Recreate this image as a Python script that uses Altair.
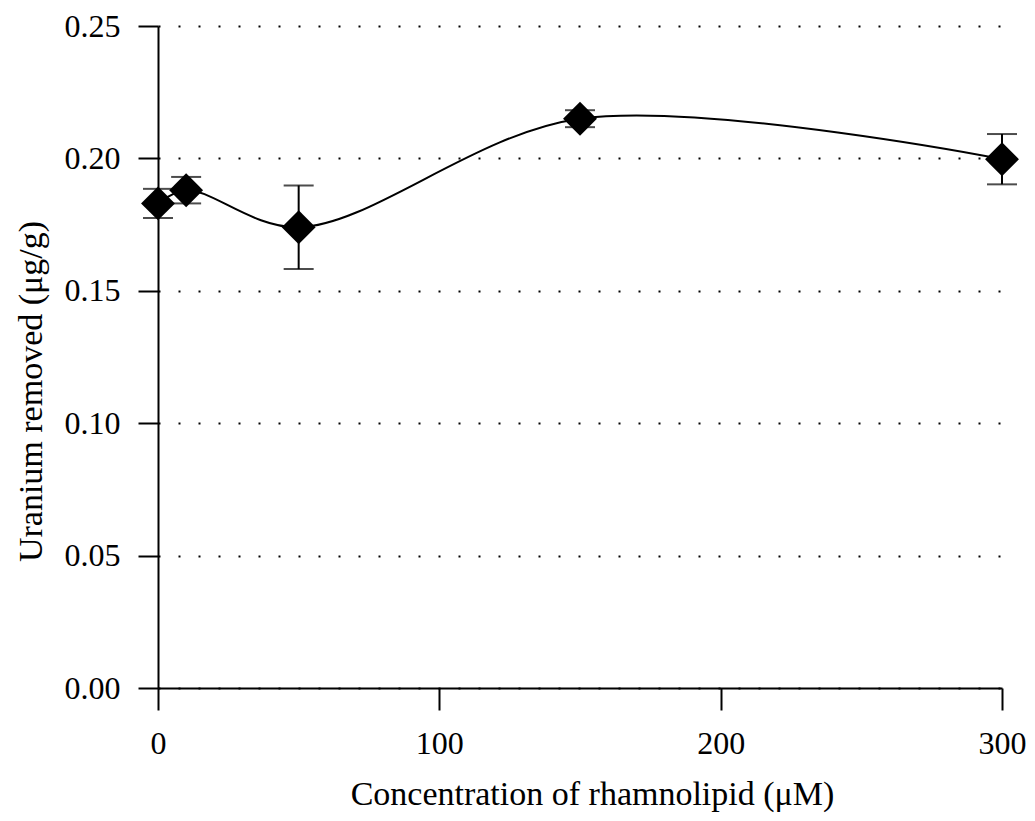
import altair as alt
import pandas as pd

conc = [0, 10, 50, 150, 300]
uranium = [0.183, 0.188, 0.174, 0.215, 0.1997]
err = [0.0055, 0.005, 0.0158, 0.0032, 0.0095]
x_ticks = [0, 100, 200, 300]
y_ticks = [0.0, 0.05, 0.10, 0.15, 0.20, 0.25]

df = pd.DataFrame({
    "conc": conc,
    "u": uranium,
    "lo": [u - e for u, e in zip(uranium, err)],
    "hi": [u + e for u, e in zip(uranium, err)],
})

FONT = "Liberation Serif"

xenc = alt.X(
    "conc:Q",
    scale=alt.Scale(domain=[0, 300], nice=False, zero=False),
    axis=alt.Axis(
        values=x_ticks, format="d", grid=False,
        title="Concentration of rhamnolipid (μM)",
        tickSize=22, tickWidth=2, tickColor="black",
        domainColor="black", domainWidth=2,
        labelFont=FONT, labelFontSize=32, labelColor="black", labelPadding=18,
        labelFlush=False,
        titleFont=FONT, titleFontSize=34, titleFontWeight="normal", titleColor="black",
        titleX=434, titleY=106, titleBaseline="middle",
    ),
)
yenc = alt.Y(
    "u:Q",
    scale=alt.Scale(domain=[0, 0.25], nice=False),
    axis=alt.Axis(
        values=y_ticks, format=".2f", grid=True,
        gridDash=[2, 18], gridColor="black", gridWidth=2,
        title="Uranium removed (μg/g)",
        tickSize=20, tickWidth=2, tickColor="black",
        domainColor="black", domainWidth=2,
        labelFont=FONT, labelFontSize=32, labelColor="black", labelPadding=18,
        titleFont=FONT, titleFontSize=34, titleFontWeight="normal", titleColor="black",
        titleX=-127, titleY=365, titleAngle=-90, titleBaseline="middle",
        titleAlign="center",
    ),
)

base = alt.Chart(df)

line = base.mark_line(interpolate="catmull-rom", color="black", strokeWidth=2).encode(x=xenc, y=yenc)
bars = base.mark_rule(color="black", strokeWidth=2).encode(x="conc:Q", y="lo:Q", y2="hi:Q")
caps_lo = base.mark_tick(orient="horizontal", size=30, thickness=2, color="black").encode(x="conc:Q", y="lo:Q")
caps_hi = base.mark_tick(orient="horizontal", size=30, thickness=2, color="black").encode(x="conc:Q", y="hi:Q")
pts = base.mark_point(shape="diamond", filled=True, size=1150, color="black", opacity=1).encode(x="conc:Q", y="u:Q")

chart = alt.layer(line, bars, caps_lo, caps_hi, pts).properties(
    width=844, height=662,
    background="white",
    autosize=alt.AutoSizeParams(type="none"),
    padding={"left": 150, "top": 18, "right": 25, "bottom": 125},
).configure_view(stroke=None).configure_axisX(grid=False)

chart.save("out.html", embed_options={"renderer": "svg", "actions": False})
